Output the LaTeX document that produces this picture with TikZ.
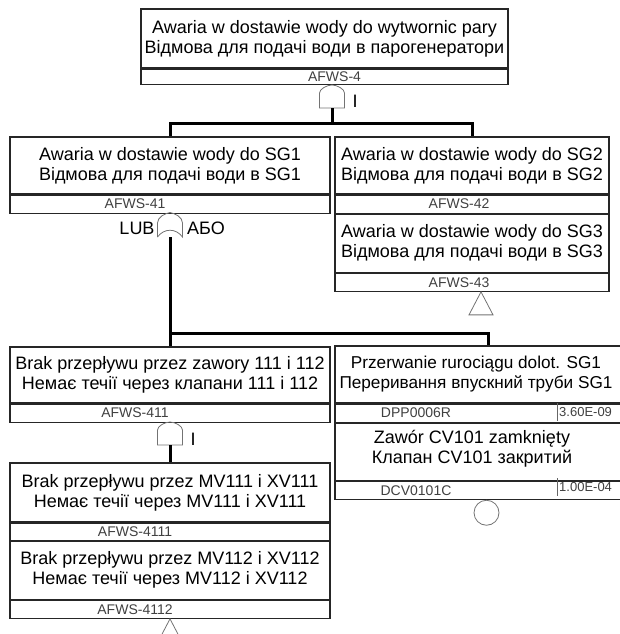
\documentclass[tikz,border=0pt]{standalone}
\usepackage{fontspec}
\setmainfont{Liberation Sans}
\usetikzlibrary{positioning}

\begin{document}
\begin{tikzpicture}[x=1pt,y=-1pt,
  evtxt/.style={inner sep=0pt, align=center, font=\fontsize{18}{20}\selectfont},
  ev/.style={evtxt, draw=black!85, line width=1.1pt},
  idstrip/.style={draw=black!85, line width=1.1pt, inner sep=0pt, minimum height=18pt},
  idtxt/.style={inner sep=0pt, text=black!75, font=\fontsize{14}{14}\selectfont},
  probtxt/.style={idtxt, anchor=west, font=\fontsize{13}{13}\selectfont},
  bus/.style={line width=3pt},
  gatestyle/.style={draw=black!55, line width=0.8pt},
  glbl/.style={inner sep=0pt, font=\fontsize{18}{18}\selectfont}]
\useasboundingbox (0,0) rectangle (619,634);
% poziom 1
\node[ev, minimum width=367pt, minimum height=59pt] (afws4) at (324.5,38.5)
  {Awaria w dostawie wody do wytwornic pary\\Відмова для подачі води в парогенератори};
\node[idstrip, minimum width=367pt, minimum height=15pt, below=0pt of afws4] (afws4id) {};
\node[idtxt] (afws4lbl) at ([xshift=10pt]afws4id.center) {AFWS-4};
% poziom 2
\node[ev, minimum width=320pt, minimum height=57pt] (afws41) at (170,165.5)
  {Awaria w dostawie wody do SG1\\Відмова для подачі води в SG1};
\node[idstrip, minimum width=320pt, below=0pt of afws41] (afws41id) {};
\node[idtxt] (afws41lbl) at ([xshift=-35pt]afws41id.center) {AFWS-41};
\node[ev, minimum width=274pt, minimum height=57pt] (afws42) at (472,165.5)
  {Awaria w dostawie wody do SG2\\Відмова для подачі води в SG2};
\node[idstrip, minimum width=274pt, below=0pt of afws42] (afws42id) {};
\node[idtxt] (afws42lbl) at ([xshift=-13pt]afws42id.center) {AFWS-42};
\node[ev, minimum width=274pt, minimum height=58pt, below=0pt of afws42id] (afws43)
  {Awaria w dostawie wody do SG3\\Відмова для подачі води в SG3};
\node[idstrip, minimum width=274pt, below=0pt of afws43] (afws43id) {};
\node[idtxt] (afws43lbl) at ([xshift=-13pt]afws43id.center) {AFWS-43};
% poziom 3
\node[ev, minimum width=320pt, minimum height=56pt] (afws411) at (170,375)
  {Brak przepływu przez zawory 111 i 112\\Немає течії через клапани 111 і 112};
\node[idstrip, minimum width=320pt, below=0pt of afws411] (afws411id) {};
\node[idtxt] (afws411lbl) at ([xshift=-35pt]afws411id.center) {AFWS-411};
\node[ev, minimum width=306pt, minimum height=57pt] (dpp) at (488,374.5) {};
\node[evtxt, font=\fontsize{17.2}{20}\selectfont] (dpptxt) at (476,374.5)
  {Przerwanie rurociągu dolot. SG1\\Переривання впускний труби SG1};
\node[idstrip, minimum width=306pt, below=0pt of dpp] (dppid) {};
\node[idtxt] (dpplbl) at ([xshift=-72pt]dppid.center) {DPP0006R};
\draw[black!60] (557,403) -- (557,421);
\node[probtxt] (dppprob) at (559,412) {3.60E-09};
\node[ev, minimum width=306pt, minimum height=57pt, below=0pt of dppid] (dcv) {};
\node[evtxt] (dcvtxt) at (472,449) {Zawór CV101 zamknięty\\Клапан CV101 закритий};
\node[idstrip, minimum width=306pt, below=0pt of dcv] (dcvid) {};
\node[idtxt] (dcvlbl) at ([xshift=-72pt]dcvid.center) {DCV0101C};
\draw[black!60] (557,478) -- (557,496);
\node[probtxt] (dcvprob) at (559,487) {1.00E-04};
% poziom 4
\node[ev, minimum width=320pt, minimum height=59pt] (afws4111) at (170,492.5)
  {Brak przepływu przez MV111 i XV111\\Немає течії через MV111 і XV111};
\node[idstrip, minimum width=320pt, minimum height=17pt, below=0pt of afws4111] (afws4111id) {};
\node[idtxt] (afws4111lbl) at ([xshift=-35pt]afws4111id.center) {AFWS-4111};
\node[ev, minimum width=320pt, minimum height=58pt, below=0pt of afws4111id] (afws4112)
  {Brak przepływu przez MV112 i XV112\\Немає течії через MV112 і XV112};
\node[idstrip, minimum width=320pt, below=0pt of afws4112] (afws4112id) {};
\node[idtxt] (afws4112lbl) at ([xshift=-35pt]afws4112id.center) {AFWS-4112};
% bramki
\coordinate (g4) at (332,108);
\coordinate (g41) at (170,237);
\coordinate (g411) at (170,445);
\foreach \g in {g4,g411}
  \draw[gatestyle, shift={(\g)}] (-12.5,0) -- (-12.5,-15) .. controls (-12.5,-19) and (-5,-23) .. (0,-23)
    .. controls (5,-23) and (12.5,-19) .. (12.5,-15) -- (12.5,0) -- cycle;%I
\draw[gatestyle, shift={(g41)}] (-12.5,0) -- (-12.5,-14) .. controls (-12.5,-20) and (-5,-23.5) .. (0,-24.5)
  .. controls (5,-23.5) and (12.5,-20) .. (12.5,-14) -- (12.5,0) .. controls (6,-9) and (-6,-9) .. (-12.5,0);%LUB
\node[glbl] (and4lbl) at (355,101) {I};
\node[glbl] (or41lbl) at (137,228) {LUB};
\node[glbl] (or41lblua) at (206,228) {АБО};
\node[glbl] (and411lbl) at (193,439) {I};
% zdarzenia przeniesione i podstawowe
\draw[gatestyle] ([xshift=9pt]afws43id.south) -- ++(-12,23) -- ++(24,0) -- cycle;
\draw[gatestyle] (afws4112id.south) -- ++(-12,23) -- ++(24,0) -- cycle;
\node[gatestyle, circle, minimum size=25pt, inner sep=0pt, anchor=north] (dcvbe) at ([xshift=-1.5pt]dcvid.south) {};
% polaczenia
\coordinate (bus4) at (332,123);
\draw[bus] (g4) -- (bus4);
\draw[bus] (afws41.north) |- (bus4) -| (afws42.north);
\coordinate (bus41) at (170,333);
\draw[bus] (g41) -- (afws411.north);
\draw[bus] (bus41) -| (dpp.north);
\draw[bus] (g411) -- (afws4111.north);
\end{tikzpicture}
\end{document}
